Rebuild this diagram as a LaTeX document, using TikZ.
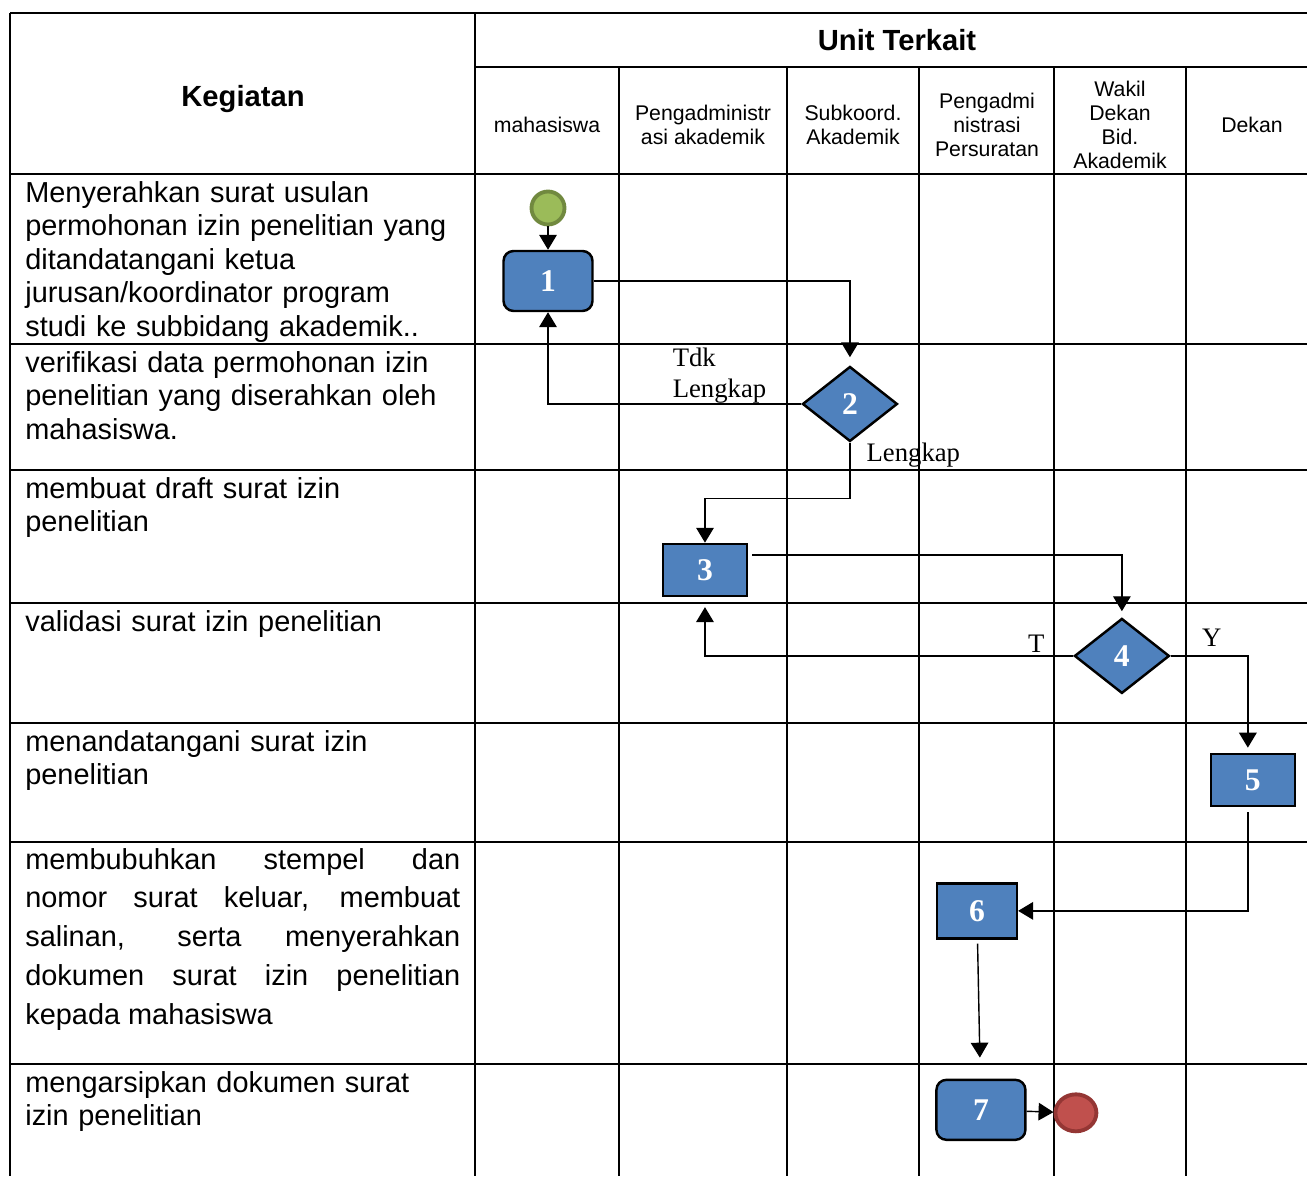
\documentclass[tikz,border=0pt]{standalone}
\usepackage{fontspec}
\setmainfont{Liberation Sans}
\newfontfamily\timesfont{Liberation Serif}
\usetikzlibrary{shapes.geometric, arrows.meta}
\definecolor{procBlue}{HTML}{4F81BD}
\definecolor{startGreen}{HTML}{9BBB59}
\definecolor{startEdge}{HTML}{71893F}
\definecolor{endRed}{HTML}{C0504D}
\definecolor{endEdge}{HTML}{943634}
\tikzstyle{arrow} = [line width=0.8pt,-{Triangle[width=10pt,length=8.5pt]}]
\tikzstyle{grid} = [line width=1.2pt]
\tikzstyle{rec} = [rectangle, draw=black, line width=1.4pt, fill=procBlue, text=white, inner sep=0pt, minimum width=1.68cm, minimum height=1.04cm, font=\timesfont\bfseries\fontsize{18}{18}\selectfont]
\tikzstyle{roundRec} = [rec, rounded corners=0.2cm, minimum width=1.78cm, minimum height=1.2cm]
\tikzstyle{dec} = [diamond, draw=black, line width=1.4pt, fill=procBlue, text=white, inner sep=0pt, minimum width=1.9cm, minimum height=1.5cm, font=\timesfont\bfseries\fontsize{18}{18}\selectfont]
\tikzstyle{startCirc} = [circle, draw=startEdge, line width=2.2pt, fill=startGreen, minimum size=0.66cm, inner sep=0pt]
\tikzstyle{endCirc} = [ellipse, draw=endEdge, line width=2.2pt, fill=endRed, minimum width=0.82cm, minimum height=0.74cm, inner sep=0pt]
\tikzstyle{task} = [anchor=base west, inner sep=0pt, text width=8.7cm, align=left, font=\fontsize{16.45}{19.1}\selectfont]
\tikzstyle{head} = [align=center, inner sep=0pt, font=\fontsize{12.1}{13.6}\selectfont]
\tikzstyle{title} = [inner sep=0pt, font=\bfseries\fontsize{16.6}{19.1}\selectfont]
\tikzstyle{lbl} = [inner sep=0pt, align=left, font=\timesfont\fontsize{15.2}{17.6}\selectfont]

\begin{document}
\begin{tikzpicture}[x=0.02cm, y=-0.02cm]
		\useasboundingbox (0,0) rectangle (1307,1176);
		% table
		\draw [grid] (10,13) -- (1307,13);
		\draw [grid] (10,13) -- (10,1176);
		\draw [grid] (475,13) -- (475,1176);
		\draw [grid] (475,67) -- (1307,67);
		\draw [grid] (619,67) -- (619,1176);
		\draw [grid] (787,67) -- (787,1176);
		\draw [grid] (919,67) -- (919,1176);
		\draw [grid] (1054,67) -- (1054,1176);
		\draw [grid] (1186,67) -- (1186,1176);
		\draw [grid] (10,174) -- (1307,174);
		\draw [grid] (10,344) -- (1307,344);
		\draw [grid] (10,470) -- (1307,470);
		\draw [grid] (10,603) -- (1307,603);
		\draw [grid] (10,723) -- (1307,723);
		\draw [grid] (10,842) -- (1307,842);
		\draw [grid] (10,1064) -- (1307,1064);
		% header
		\node (kegiatan) [title] at (243,99) {Kegiatan};
		\node (unit) [title] at (897,40) {Unit Terkait};
		\node (mhs) [head] at (547,125) {mahasiswa};
		\node (adm) [head] at (703,125) {Pengadministr\\asi akademik};
		\node (subkoord) [head] at (853,125) {Subkoord.\\Akademik};
		\node (persuratan) [head] at (987,125) {Pengadmi\\nistrasi\\Persuratan};
		\node (wakil) [head] at (1120,125) {Wakil\\Dekan\\Bid.\\Akademik};
		\node (dekan) [head] at (1252,125) {Dekan};
		% kegiatan
		\node (k1) [task] at (25,202) {Menyerahkan surat usulan\\permohonan izin penelitian yang\\ditandatangani ketua\\jurusan/koordinator program\\studi ke subbidang akademik..};
		\node (k2) [task] at (25,372) {verifikasi data permohonan izin\\penelitian yang diserahkan oleh\\mahasiswa.};
		\node (k3) [task] at (25,498) {membuat draft surat izin\\penelitian};
		\node (k4) [task] at (25,631) {validasi surat izin penelitian};
		\node (k5) [task] at (25,751) {menandatangani surat izin\\penelitian};
		\node (k6) [task, align=justify, font=\fontsize{16.45}{22.1}\selectfont] at (25,869) {membubuhkan stempel dan\linebreak nomor surat keluar, membuat\linebreak salinan, serta menyerahkan\linebreak dokumen surat izin penelitian\linebreak kepada mahasiswa};
		\node (k7) [task] at (25,1092) {mengarsipkan dokumen surat\\izin penelitian};
		% flow
		\node (start) [startCirc] at (548,208) {};
		\node (submit) [roundRec, below of=start, node distance=1.46cm] {1};
		\node (verify) [dec, below of=submit, node distance=2.46cm, xshift=6.04cm] {2};
		\node (draft) [rec, below of=verify, node distance=3.32cm, xshift=-2.9cm] {3};
		\node (validate) [dec, below of=draft, node distance=1.72cm, xshift=8.34cm] {4};
		\node (sign) [rec, below of=validate, node distance=2.48cm, xshift=2.62cm] {5};
		\node (stamp) [rec, below of=sign, node distance=2.62cm, xshift=-5.52cm, minimum width=1.6cm, minimum height=1.1cm] {6};
		\node (archive) [roundRec, below of=stamp, node distance=3.98cm, xshift=0.08cm] {7};
		\node (finish) [endCirc, right of=archive, node distance=1.9cm, yshift=-0.06cm] {};
		\draw [arrow] (start) -- (submit);
		\draw [arrow, shorten >=0.16cm] (submit) -| (verify);
		\draw [arrow] (verify) -| node [lbl, pos=0.255, anchor=south west] {Tdk\\Lengkap} (submit);
		\draw [arrow] (verify.south) -- node [lbl, pos=0, anchor=north west, xshift=0.32cm] {Lengkap} ++(0,56) -| (draft.north);
		\draw [arrow, shorten >=0.12cm] ([xshift=0.08cm, yshift=0.3cm]draft.east) -| (validate);
		\draw [arrow, shorten >=0.2cm] (validate) -| node [lbl, pos=0.038, anchor=south east, yshift=0.06cm] {T} (draft);
		\draw [arrow, shorten >=0.1cm] (validate) -| node [lbl, pos=0.2, anchor=south west, yshift=0.18cm] {Y} ([xshift=-0.1cm]sign.north);
		\draw [arrow, shorten <=0.1cm] ([xshift=-0.1cm]sign.south) |- (stamp);
		\draw [arrow, shorten <=0.08cm, shorten >=0.42cm] (stamp) -- (archive);
		\draw [arrow] (archive) -- (finish);
	\end{tikzpicture}
\end{document}
